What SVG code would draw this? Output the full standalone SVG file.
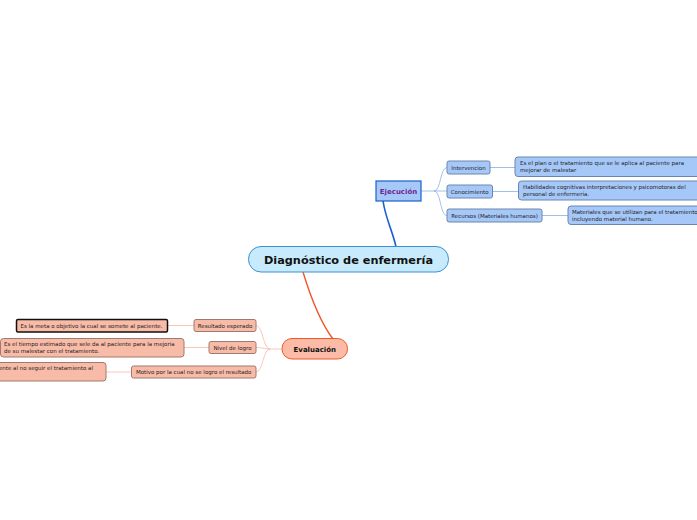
<svg xmlns="http://www.w3.org/2000/svg" width="697" height="520" viewBox="0 0 697 520">
<style>
text{font-family:"DejaVu Sans","Verdana",sans-serif;fill:#222}
.s{font-size:5.5px}
.b{font-size:7px;font-weight:bold}
.blue{fill:#a6c8f9;stroke:#6a86ad;stroke-width:1}
.org{fill:#f8bba8;stroke:#a07a70;stroke-width:1}
.cb{fill:none;stroke:#8aaee0;stroke-width:0.8}
.co{fill:none;stroke:#fbb8a4;stroke-width:0.8}
</style>
<rect width="697" height="520" fill="#ffffff"/>
<g id="connectors">
<path d="M383,201 C386,220 393,232 396,247" fill="none" stroke="#1a60cc" stroke-width="1.6"/>
<path d="M303,272 C310,295 320,322 333,339" fill="none" stroke="#f0582a" stroke-width="1.4"/>
<path class="cb" d="M421,191 H434"/>
<path class="cb" d="M434,191 C441,191 440,167.5 447,167.5"/>
<path class="cb" d="M434,191 H447"/>
<path class="cb" d="M434,191 C441,191 440,215.5 447,215.5"/>
<path class="cb" d="M490,167.5 H515"/>
<path class="cb" d="M492,191.5 H518"/>
<path class="cb" d="M542,215.5 H568"/>
<path class="co" d="M282,349 H270"/>
<path class="co" d="M270,349 C263,349 263,325.5 256,325.5"/>
<path class="co" d="M270,349 C263,349 263,347.5 256,347.5"/>
<path class="co" d="M270,349 C263,349 263,372 256,372"/>
<path class="co" d="M194,325.5 H167"/>
<path class="co" d="M209,347.5 H184"/>
<path class="co" d="M131,372 H106"/>
</g>
<g id="central">
<rect x="248.5" y="246.5" width="200" height="25.5" rx="12.5" fill="#c7ebfc" stroke="#3d8fd4" stroke-width="1"/>
<text x="348.5" y="263.5" text-anchor="middle" style="font-size:11.3px;font-weight:bold;fill:#111">Diagnóstico de enfermería</text>
</g>
<g id="ejecucion">
<rect x="376" y="181" width="45" height="20" fill="#a6c8f9" stroke="#1a60cc" stroke-width="1.2"/>
<text class="b" x="398.5" y="193.5" text-anchor="middle" style="fill:#6b2a93">Ejecución</text>
</g>
<g id="intervencion">
<rect class="blue" x="447" y="161" width="43" height="13" rx="2"/>
<text class="s" x="468.5" y="169.5" text-anchor="middle">Intervencion</text>
</g>
<g id="intervencion-desc">
<rect class="blue" x="515" y="157" width="190" height="19.5" rx="3"/>
<text class="s" x="520" y="165">Es el plan o el tratamiento que se le aplica al paciente para</text>
<text class="s" x="520" y="172">mejorar de malestar</text>
</g>
<g id="conocimiento">
<rect class="blue" x="447" y="185" width="45.5" height="13" rx="2"/>
<text class="s" x="469.7" y="193.5" text-anchor="middle">Conocimiento</text>
</g>
<g id="conocimiento-desc">
<rect class="blue" x="518.5" y="181" width="190" height="19" rx="3"/>
<text class="s" x="523" y="189">Habilidades cognitivas interpretaciones y psicomotoras del</text>
<text class="s" x="523" y="196">personal de enfermería.</text>
</g>
<g id="recursos">
<rect class="blue" x="447" y="209" width="95" height="13" rx="2"/>
<text class="s" x="494.5" y="217.5" text-anchor="middle">Recursos (Materiales humanos)</text>
</g>
<g id="recursos-desc">
<rect class="blue" x="568" y="206" width="140" height="18.5" rx="3"/>
<text class="s" x="572" y="213.5">Materiales que se utilizan para el tratamiento</text>
<text class="s" x="572" y="220.5">incluyendo material humano.</text>
</g>
<g id="evaluacion">
<rect x="282" y="338.5" width="65.5" height="20.5" rx="10" fill="#fbbba6" stroke="#f0582a" stroke-width="1"/>
<text class="b" x="314.8" y="351.5" text-anchor="middle" style="fill:#111">Evaluación</text>
</g>
<g id="resultado">
<rect class="org" x="194" y="319.5" width="62" height="12" rx="2"/>
<text class="s" x="225" y="327.5" text-anchor="middle">Resultado esperado</text>
</g>
<g id="resultado-desc">
<rect x="16.5" y="319.5" width="151" height="12.5" rx="1.5" fill="#f8bba8" stroke="#111" stroke-width="1.5"/>
<text class="s" x="20.5" y="327.8">Es la meta o objetivo la cual se somete al paciente.</text>
</g>
<g id="nivel">
<rect class="org" x="209" y="341.5" width="47" height="12" rx="2"/>
<text class="s" x="232.5" y="349.5" text-anchor="middle">Nivel de logro</text>
</g>
<g id="nivel-desc">
<rect class="org" x="0.5" y="338.5" width="183.5" height="18.5" rx="3"/>
<text class="s" x="4" y="346">Es el tiempo estimado que sele da al paciente para la mejoria</text>
<text class="s" x="4" y="353">de su malestar con el tratamiento.</text>
</g>
<g id="motivo">
<rect class="org" x="131.5" y="366" width="124.5" height="12" rx="2"/>
<text class="s" x="193.7" y="374" text-anchor="middle">Motivo por la cual no se logro el resultado</text>
</g>
<g id="motivo-desc">
<rect class="org" x="-10" y="362.5" width="116" height="18.5" rx="3"/>
<text class="s" x="93" y="370" text-anchor="end">ente al no seguir el tratamiento al</text>
</g>
</svg>
